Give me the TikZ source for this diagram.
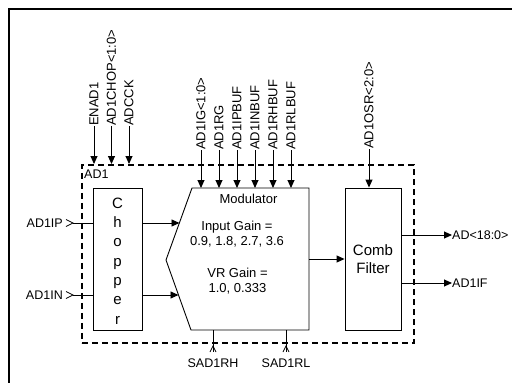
\documentclass[tikz,border=0pt]{standalone}
\usepackage{fontspec}
\setmainfont{Liberation Sans}
\usetikzlibrary{arrows.meta}
\begin{document}
\begin{tikzpicture}[x=1pt,y=-1pt,
  lbl/.style={font=\fontsize{12.5}{14}\selectfont, inner sep=0pt},
  vlbl/.style={font=\fontsize{13}{15}\selectfont, inner sep=0pt, rotate=90, anchor=west},
  sig/.style={line width=0.9pt, -{Triangle[length=8pt,width=7pt]}},
  wire/.style={line width=0.9pt},
  blk/.style={draw, line width=0.9pt, inner sep=0pt},
  port/.style={line width=0.8pt}
]
\useasboundingbox (0,0) rectangle (512,383);
\clip (0,0) rectangle (512,383);
% outer frame
\draw[line width=1.6pt] (9,9) rectangle (540,420);
% AD1 dashed box
\node[draw, line width=1.6pt, dash pattern=on 6pt off 4pt, inner sep=0pt,
      minimum width=332pt, minimum height=178pt, anchor=north west] (ad1) at (81,164) {};
\node[lbl, anchor=west] (ad1lbl) at (84,174) {AD1};
% chopper
\node[blk, minimum width=49pt, minimum height=142pt] (chop) at (117.5,259) {};
\node[font=\fontsize{15}{19.3}\selectfont, align=center, inner sep=0pt] (choptxt) at (117.5,261) {C\\h\\o\\p\\p\\e\\r};
% modulator
\coordinate (mtl) at (192,188);
\coordinate (mtr) at (309,188);
\coordinate (mbr) at (309,330);
\coordinate (mbl) at (191,330);
\coordinate (mpt) at (166,260);
\draw[wire] (mtl) -- (mtr) -- (mbr) -- (mbl) -- (mpt) -- cycle;
\node[font=\fontsize{13}{15}\selectfont, inner sep=0pt] (modt) at (248.5,199) {Modulator};
\node[font=\fontsize{13}{15}\selectfont, align=center, inner sep=0pt] (ig) at (237,234.5) {Input Gain =\\0.9, 1.8, 2.7, 3.6};
\node[font=\fontsize{13}{15}\selectfont, align=center, inner sep=0pt] (vr) at (237.5,281.5) {VR Gain =\\1.0, 0.333};
\coordinate (mip) at (179.5,223);
\coordinate (min) at (178.5,295);
\coordinate (mout) at (309,259);
% comb filter
\node[blk, minimum width=56pt, minimum height=142pt] (comb) at (373,259) {};
\node[font=\fontsize{15}{18}\selectfont, align=center, inner sep=0pt] (combt) at (373,259) {Comb\\Filter};
% chopper to modulator
\draw[sig] (chop.east |- mip) -- (mip);
\draw[sig] (chop.east |- min) -- (min);
\draw[sig] (mout) -- (comb.west);
% inputs
\node[lbl, anchor=east] (ip) at (63,223) {AD1IP};
\node[lbl, anchor=east] (in) at (63,295) {AD1IN};
\coordinate (ipc) at (73,223);
\coordinate (inc) at (73,295);
\draw[port] (66,219.5) -- (ipc) -- (66,226.5);
\draw[port] (66,291.5) -- (inc) -- (66,298.5);
\draw[wire] (ipc) -- (ipc -| chop.west);
\draw[wire] (inc) -- (inc -| chop.west);
% outputs
\node[lbl, anchor=west] (ado) at (452,235) {AD<18:0>};
\node[lbl, anchor=west] (adif) at (452,283) {AD1IF};
\draw[sig] (comb.east |- ado) -- (ado.west);
\draw[sig] (comb.east |- adif) -- (adif.west);
% top inputs to AD1
\node[vlbl] (enad) at (94,126) {ENAD1};
\node[vlbl] (chopin) at (111.5,126) {AD1CHOP<1:0>};
\node[vlbl] (adcck) at (129,126) {ADCCK};
\foreach \n in {enad,chopin,adcck} \draw[sig] (\n.west) -- (\n.west |- ad1.north);
% top inputs to modulator
\node[vlbl] (ig1) at (201,150) {AD1IG<1:0>};
\node[vlbl] (rg) at (219,150) {AD1RG};
\node[vlbl] (ipb) at (237,150) {AD1IPBUF};
\node[vlbl] (inb) at (255,150) {AD1INBUF};
\node[vlbl] (rhb) at (273,150) {AD1RHBUF};
\node[vlbl] (rlb) at (291,150) {AD1RLBUF};
\foreach \n in {ig1,rg,ipb,inb,rhb,rlb} \draw[sig] (\n.west) -- (\n.west |- mtl);
% OSR
\node[vlbl] (osr) at (369,149) {AD1OSR<2:0>};
\draw[sig] (osr.west) -- (osr.west |- comb.north);
% bottom references
\coordinate (rhc) at (213,346);
\coordinate (rlc) at (286,346);
\draw[wire] (rhc |- mbl) -- (213,352);
\draw[wire] (rlc |- mbl) -- (286,352);
\draw[port] (210,352) -- (rhc) -- (216,352);
\draw[port] (283,352) -- (rlc) -- (289,352);
\node[lbl] (rh) at (213,363) {SAD1RH};
\node[lbl] (rl) at (286,363) {SAD1RL};
\end{tikzpicture}
\end{document}
